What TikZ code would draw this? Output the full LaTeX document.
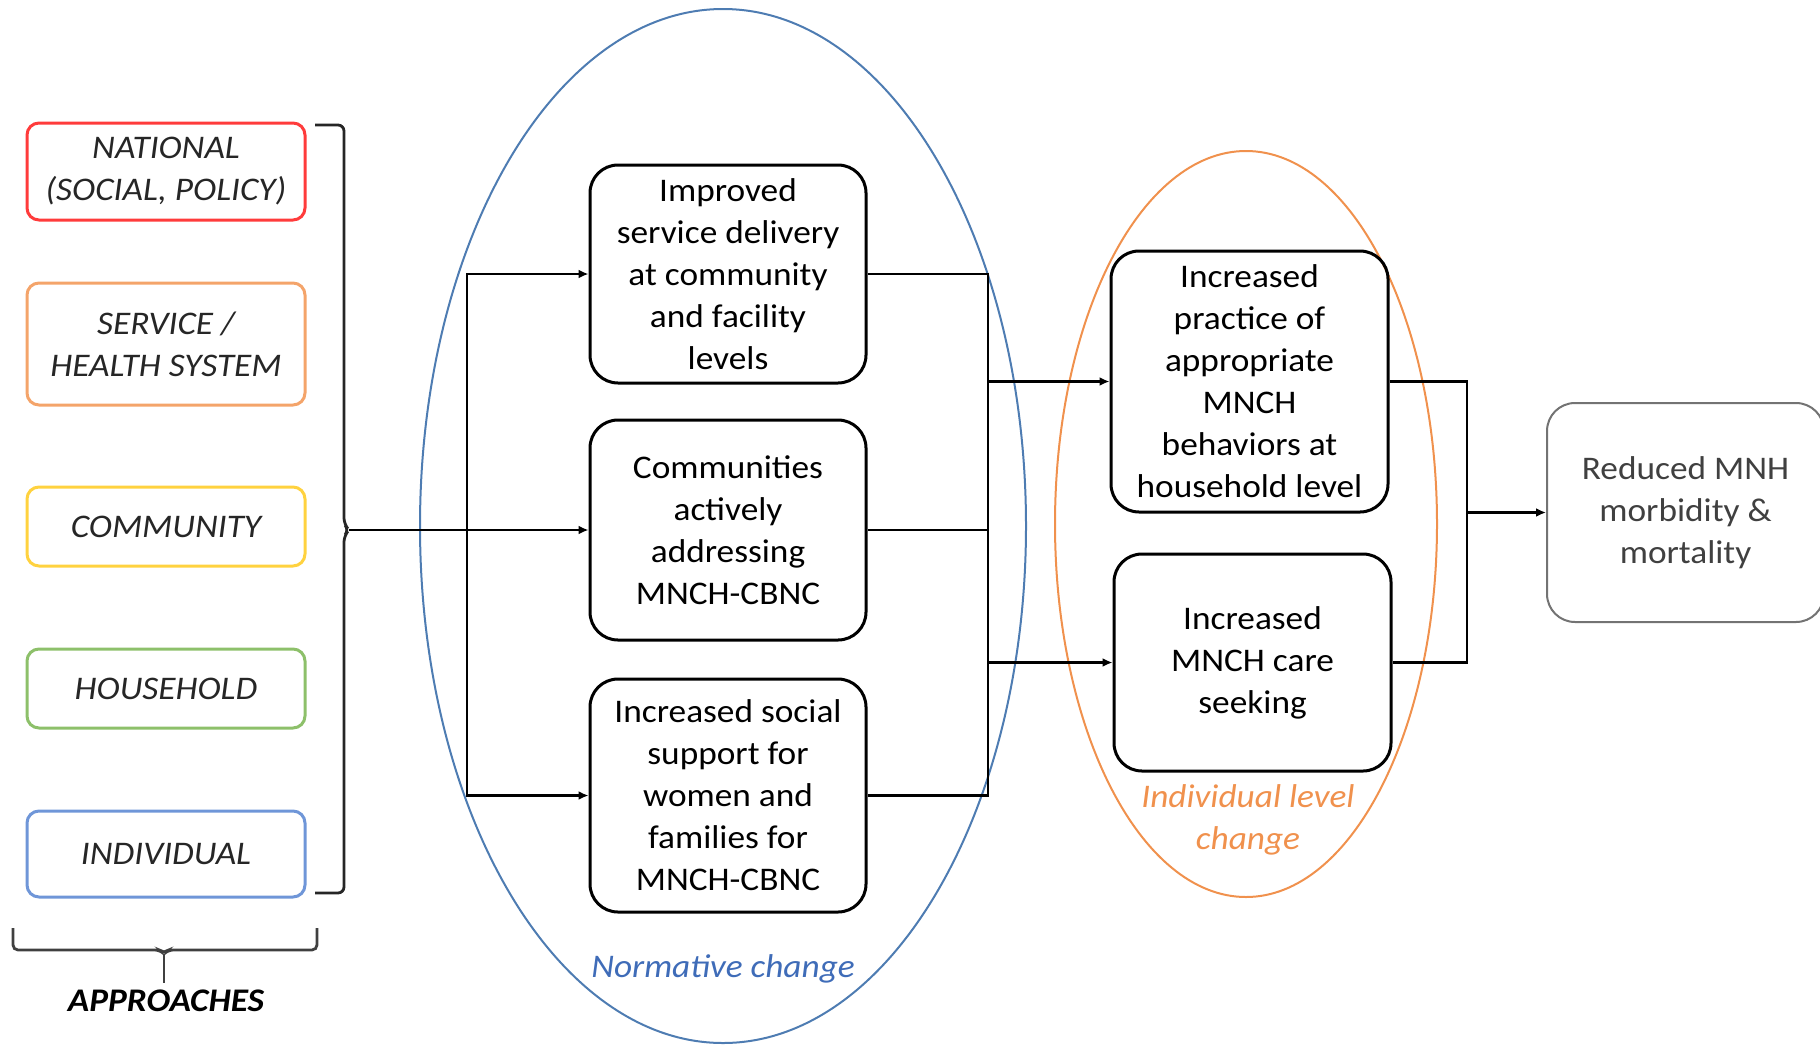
\documentclass[tikz,border=0pt]{standalone}
\usepackage{fontspec}
\setmainfont{Carlito}[FakeStretch=1.07]
\usetikzlibrary{positioning, shapes.geometric, arrows.meta}

\definecolor{natred}{HTML}{FF3B3B}
\definecolor{servorange}{HTML}{F4A46A}
\definecolor{commyellow}{HTML}{FFD23F}
\definecolor{housegreen}{HTML}{8DC06A}
\definecolor{indivblue}{HTML}{6F96D8}
\definecolor{normblue}{HTML}{4E7CB2}
\definecolor{normtext}{HTML}{3F6CB8}
\definecolor{indorange}{HTML}{F0914D}

\begin{document}
\begin{tikzpicture}[
      x=1pt, y=-1pt,
      font=\fontsize{33}{42}\selectfont,
      approach/.style={rectangle, draw, rounded corners=12pt, minimum width=278pt,
      align=center, line width=3pt, text=black!85,
      font=\fontsize{33}{42}\selectfont\itshape},
      block/.style={rectangle, draw, rounded corners=28pt, minimum width=276pt,
      align=center, inner sep=3pt, line width=3pt},
      zone/.style={ellipse, draw, inner sep=0pt, line width=2pt},
      line/.style={draw, -{Latex[length=10pt,width=9pt]}, line width=2.8pt},
      link/.style={draw, line width=2.8pt}
    ]
    \useasboundingbox (0,0) rectangle (1820,1045);

    % the two zones of change
    \node [zone, draw=normblue, minimum width=606pt, minimum height=1034pt]
      (normative) at (723,526) {};
    \node [zone, draw=indorange, minimum width=382pt, minimum height=746pt]
      (individual) at (1246,524) {};
    \node [text=normtext, font=\fontsize{33}{42}\selectfont\itshape]
      (normlabel) at (723,969) {Normative change};
    \node [text=indorange, align=center, font=\fontsize{33}{42}\selectfont\itshape]
      (indlabel) at (1248,820) {Individual level\\change};

    % approaches
    \node [approach, draw=natred, minimum height=97pt] (nat) at (166,171.5)
      {NATIONAL\\(SOCIAL, POLICY)};
    \node [approach, draw=servorange, minimum height=122pt] (serv) at (166,344)
      {SERVICE /\\HEALTH SYSTEM};
    \node [approach, draw=commyellow, minimum height=79pt] (comm) at (166,526.5)
      {COMMUNITY};
    \node [approach, draw=housegreen, minimum height=79pt] (house) at (166,688.5)
      {HOUSEHOLD};
    \node [approach, draw=indivblue, minimum height=86pt] (indiv) at (166,854)
      {INDIVIDUAL};

    \coordinate (fork) at (349,530);
    \draw [line width=2.8pt, rounded corners=6pt, black!85]
      (315,125) -| (344,524) -- (fork) -- (344,536) |- (315,893);
    \draw [line width=2.8pt, rounded corners=5pt, black!75]
      (13,928) |- (160,950) -- (164,954) -- (168,950) -| (317,928);
    \draw [line width=2.8pt, black!75] (164,954) -- (164,983);
    \node [font=\fontsize{33}{42}\selectfont\bfseries\itshape] (approaches)
      at (166,1001) {APPROACHES};

    % normative outcomes
    \node [block, minimum height=218pt] (imp) at (728,274)
      {Improved\\service delivery\\at community\\and facility\\levels};
    \node [block, minimum height=220pt] (com) at (728,530)
      {Communities\\actively\\addressing\\MNCH-CBNC};
    \node [block, minimum height=233pt] (soc) at (728,795.5)
      {Increased social\\support for\\women and\\families for\\MNCH-CBNC};

    % individual outcomes
    \node [block, minimum width=277pt, minimum height=261pt] (prac) at (1249.5,381.5)
      {Increased\\practice of\\appropriate\\MNCH\\behaviors at\\household level};
    \node [block, minimum width=277pt, minimum height=217pt] (care) at (1252.5,662.5)
      {Increased\\MNCH care\\seeking};

    \node [block, draw=black!55, text=black!75, line width=2pt, minimum width=277pt,
      minimum height=219pt] (out) at (1685.5,512.5)
      {Reduced MNH\\morbidity \&\\mortality};

    % connectors
    \coordinate (split) at (467,530);
    \path [line] (fork) -- (com.west);
    \path [line] (split) |- (imp.west);
    \path [line] (split) |- (soc.west);

    \coordinate (busN) at (988,274);
    \path [link] (imp.east) -- (busN) -- (busN |- soc.east) -- (soc.east);
    \path [link] (com.east) -- (com.east -| busN);
    \path [line] (busN |- prac.west) -- (prac.west);
    \path [line] (busN |- care.west) -- (care.west);

    \coordinate (busI) at (1467,381.5);
    \path [link] (prac.east) -- (busI) -- (busI |- care.east) -- (care.east);
    \path [line] (busI |- out.west) -- (out.west);
  \end{tikzpicture}
\end{document}
